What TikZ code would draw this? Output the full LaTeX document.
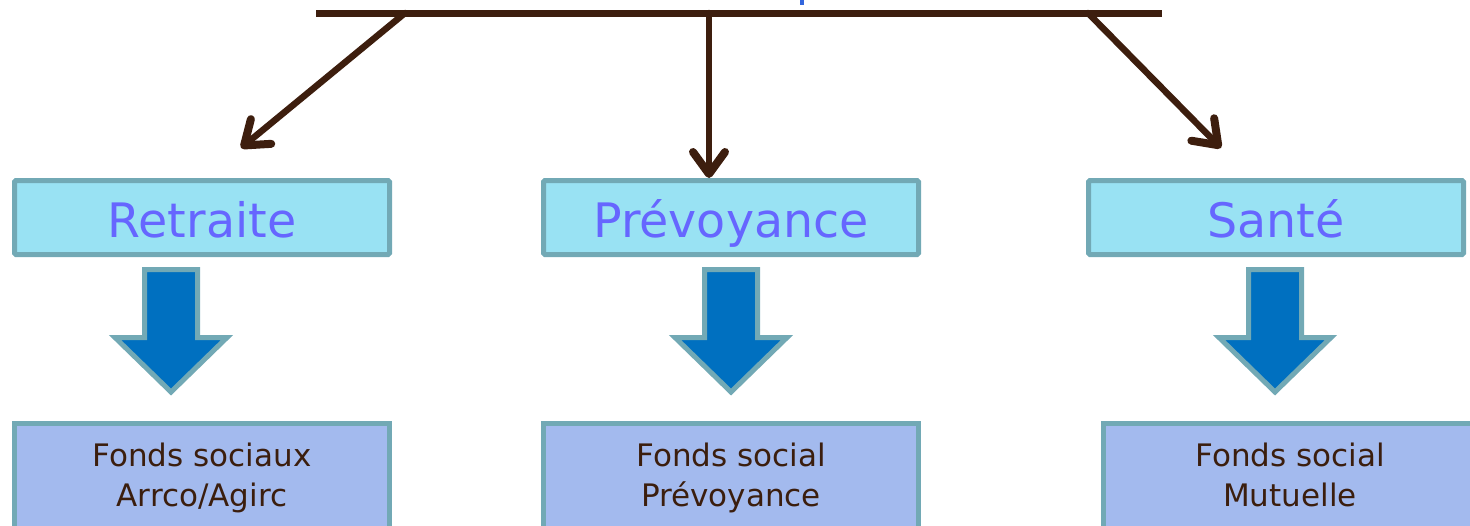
\documentclass[tikz,border=0pt]{standalone}
\usepackage{fontspec}
\setmainfont{DejaVu Sans}
\usetikzlibrary{arrows.meta}
\definecolor{topfill}{HTML}{99E2F3}
\definecolor{boxedge}{HTML}{72A9B5}
\definecolor{toptext}{HTML}{6666FF}
\definecolor{botfill}{HTML}{A3BAEE}
\definecolor{bottext}{HTML}{3B1E0E}
\definecolor{arrowfill}{HTML}{0070C0}
\definecolor{conn}{HTML}{3D1E0E}
\definecolor{fragblue}{HTML}{3366DD}
\tikzset{
  topbox/.style={draw=boxedge, fill=topfill, line width=5pt, rounded corners=1.5pt,
    minimum width=375pt, minimum height=74pt, inner sep=0pt,
    text height=45pt, text depth=6pt,
    text=toptext, font=\fontsize{47.5}{56}\selectfont},
  bottxt/.style={inner sep=0pt, text=bottext, align=center,
    font=\fontsize{31}{40}\selectfont},
  botframe/.style={draw=boxedge, fill=botfill, line width=5pt},
  bigarrow/.style={draw=boxedge, fill=arrowfill, line width=5pt, line join=miter},
  connector/.style={draw=conn, line width=6.5pt, line cap=round,
    -{Straight Barb[length=22pt,width=32pt,line width=8pt,line cap=round,line join=round]}},
}
\begin{document}
\begin{tikzpicture}[x=1pt,y=-1pt]
\useasboundingbox (0,0) rectangle (1470,525);
% fragment of cut-off title
\fill[fragblue] (800,0) rectangle (803.5,4.5);
% horizontal bar
\coordinate (barL) at (316,13);
\coordinate (barR) at (1162,13);
\draw[conn, line width=7pt] (barL) -- (barR);
\coordinate (b1) at (405,13);
\coordinate (b2) at (709,13);
\coordinate (b3) at (1088,13);
\coordinate (e1) at (241,148);
\coordinate (e3) at (1221,148);
% top boxes
\node[topbox] (retraite) at (202,217.5) {Retraite};
\node[topbox] (prevoyance) at (731,217.5) {Prévoyance};
\node[topbox] (sante) at (1276,217.5) {Santé};
% connectors
\draw[connector] (b1) -- (e1);
\draw[connector] (b2) -- (prevoyance.north -| b2);
\draw[connector] (b3) -- (e3);
% big down arrows
\foreach \cx in {171,731,1275}{
  \draw[bigarrow] (\cx-26.5,269.5) -- (\cx+26.5,269.5) -- (\cx+26.5,337.5)
    -- (\cx+56,337.5) -- (\cx,392) -- (\cx-56,337.5) -- (\cx-26.5,337.5) -- cycle;
}
% bottom boxes (cut off by the lower edge)
\path[botframe] (14.5,540) -- (14.5,423.5) -- (389.5,423.5) -- (389.5,540);
\path[botframe] (543.5,540) -- (543.5,423.5) -- (918.5,423.5) -- (918.5,540);
\path[botframe] (1103.5,540) -- (1103.5,423.5) -- (1480,423.5) -- (1480,540);
\node[bottxt] (fs1) at (202,478) {\strut Fonds sociaux\\\strut Arrco/Agirc};
\node[bottxt] (fs2) at (731,478) {\strut Fonds social\\\strut Prévoyance};
\node[bottxt] (fs3) at (1290,478) {\strut Fonds social\\\strut Mutuelle};
\end{tikzpicture}
\end{document}
